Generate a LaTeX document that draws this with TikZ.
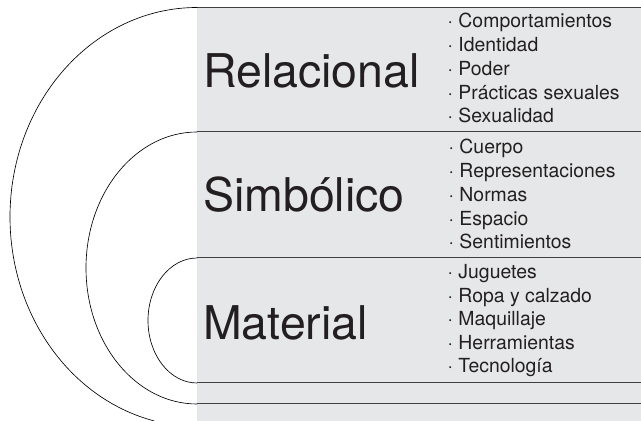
\documentclass[tikz,border=0pt]{standalone}
\usepackage{fontspec}
\setmainfont{TeX Gyre Heros}
\definecolor{panel}{HTML}{E6E7E8}
\definecolor{ink}{HTML}{231F20}
\begin{document}
\begin{tikzpicture}[x=1pt, y=1pt,
  level/.style = {anchor=base west, inner sep=0pt, text=ink,
    font=\fontsize{46.5}{50}\selectfont},
  item/.style = {anchor=base west, inner sep=0pt, text=ink,
    font=\fontsize{19.4}{23}\selectfont},
  rule/.style = {draw=black!75, line width=1pt},
  shell/.style = {draw=black, line width=0.65pt}]
  \useasboundingbox (0,0) rectangle (641,421);
  \fill[panel] (197,413.5) rectangle (641,0);
  % rows
  \foreach \y in {413.5, 289, 163, 38, 17}
    \draw[rule] (197,\y) -- (641,\y);
  % shells
  \draw[shell] (197,413.5) arc[start angle=90, end angle=256.8,
    x radius=187, y radius=209.5];
  \draw[shell] (197,289) arc[start angle=90, end angle=270,
    x radius=111, y radius=136];
  \draw[shell] (197,163) arc[start angle=90, end angle=270,
    x radius=49, y radius=62.5];
  % levels
  \node[level] (relacional) at (203,333) {Relacional};
  \node[level] (simbolico) at (203,209) {Simbólico};
  \node[level] (material) at (203,81) {Material};
  % items
  \foreach \txt [count=\i] in {Comportamientos, Identidad, Poder,
      Prácticas sexuales, Sexualidad}
    \node[item] (rel-\i) at (447.5,{393-(\i-1)*23.7}) {· \txt};
  \foreach \txt [count=\i] in {Cuerpo, Representaciones, Normas,
      Espacio, Sentimientos}
    \node[item] (sim-\i) at (448.5,{267-(\i-1)*23.7}) {· \txt};
  \foreach \txt [count=\i] in {Juguetes, Ropa y calzado, Maquillaje,
      Herramientas, Tecnología}
    \node[item] (mat-\i) at (447.5,{142-(\i-1)*23.5}) {· \txt};
\end{tikzpicture}
\end{document}
